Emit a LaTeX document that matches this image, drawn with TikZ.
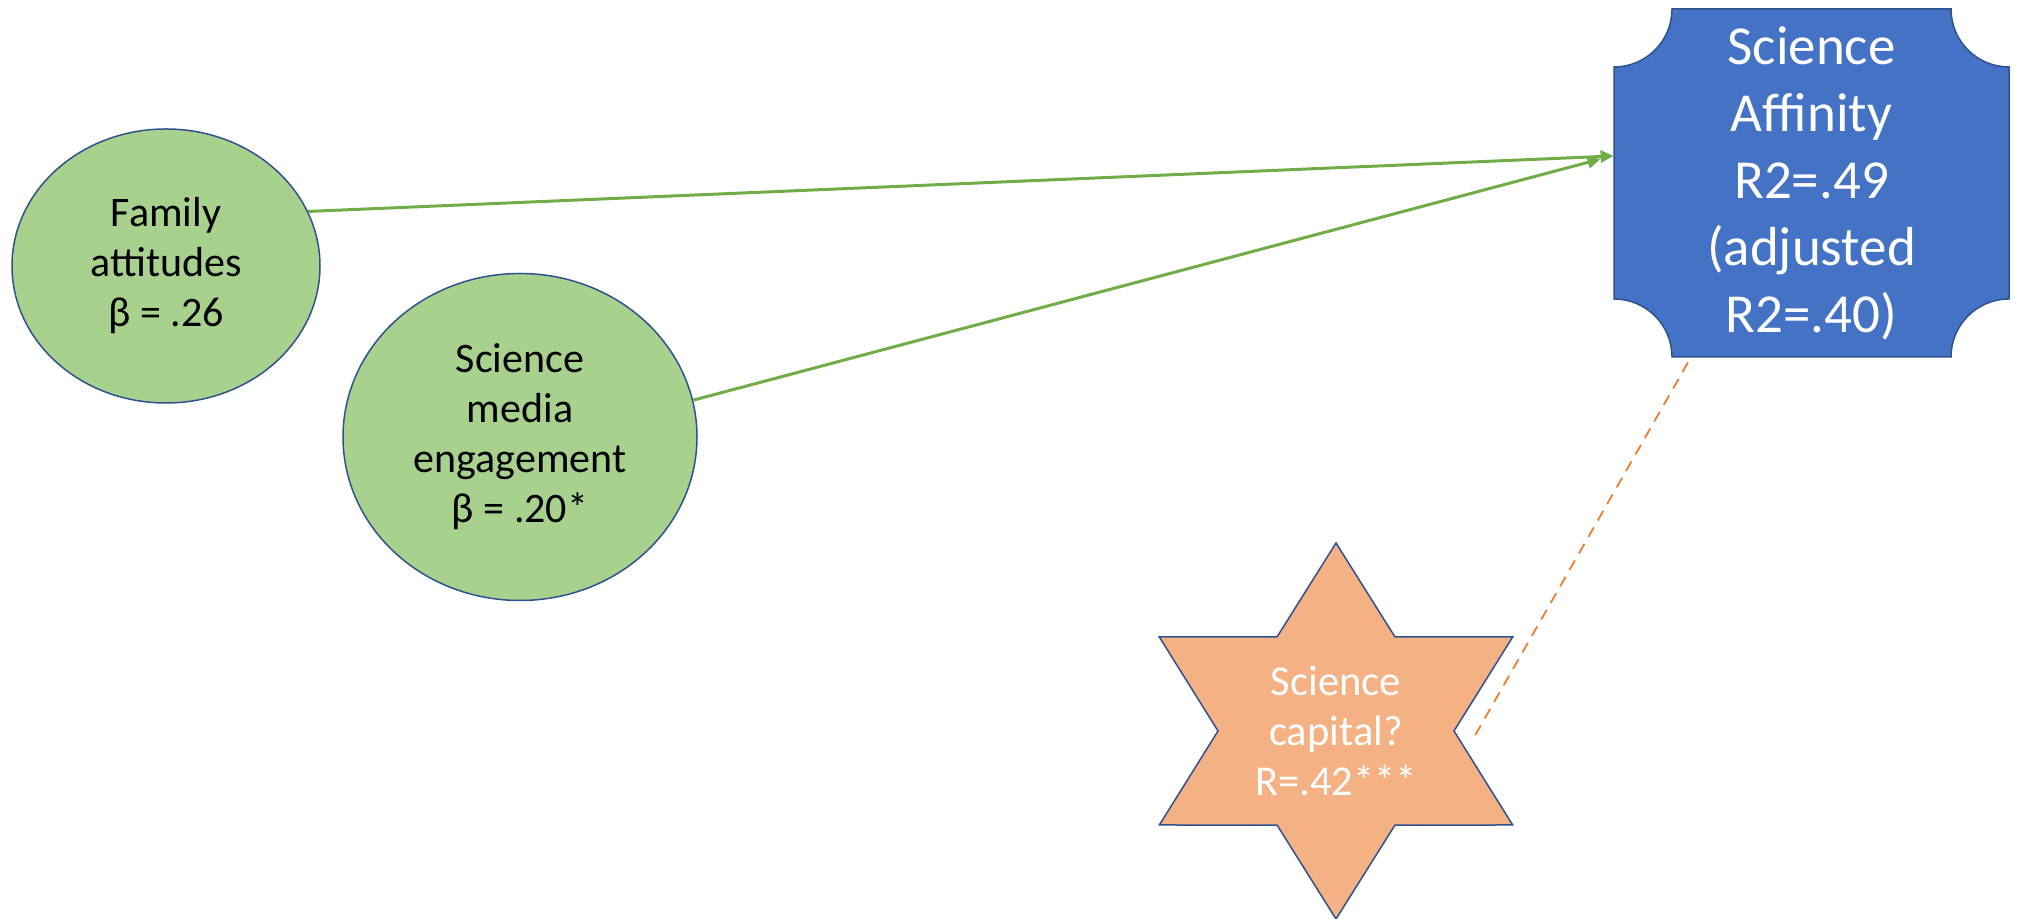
\documentclass[tikz,border=0pt]{standalone}
\usepackage{fontspec}
\setmainfont{Carlito}
\usetikzlibrary{arrows.meta}
\usetikzlibrary{shapes.geometric}
\usetikzlibrary{calc}

\definecolor{predfill}{HTML}{A9D18E}
\definecolor{edgeblue}{HTML}{2F528F}
\definecolor{pathgreen}{HTML}{70AD47}
\definecolor{outfill}{HTML}{4472C4}
\definecolor{capfill}{HTML}{F4B183}
\definecolor{capline}{HTML}{ED7D31}

\begin{document}
\begin{tikzpicture}[x=0.5pt, y=0.5pt,
                          prednode/.style={ellipse, draw=edgeblue, fill=predfill, line width=0.75pt, inner sep=0pt, align=center, font=\fontsize{21pt}{25pt}\selectfont},
                          outnode/.style={rectangle, inner sep=0pt, align=center, text=white, minimum width=197.5pt, minimum height=174pt, font=\fontsize{27.5pt}{33.5pt}\selectfont},
                          capnode/.style={inner sep=0pt, align=center, text=white, font=\fontsize{21.3pt}{25pt}\selectfont},
                          plaque/.style={draw=edgeblue, fill=outfill, line width=0.75pt},
                          starshape/.style={draw=edgeblue, fill=capfill, line width=0.75pt},
                          patharrow/.style={draw=pathgreen, line width=1.5pt, -{Triangle[length=6.5pt, width=6pt]}},
                          corrline/.style={draw=capline, line width=0.9pt, dash pattern=on 5.5pt off 4pt},
                      ]
                      \useasboundingbox (0,0) rectangle (2018,919);

                      %Outcome plaque
                      \path (1811.5,736) coordinate (affc);
                      \draw[plaque] ($(affc)+(-69.75pt,87pt)$) -- ($(affc)+(69.75pt,87pt)$)
                          arc[start angle=180, end angle=270, radius=29pt] -- ++(0,-232)
                          arc[start angle=90, end angle=180, radius=29pt] -- ++(-279,0)
                          arc[start angle=0, end angle=90, radius=29pt] -- ++(0,232)
                          arc[start angle=270, end angle=360, radius=29pt] -- cycle;

                      %Star
                      \path (1336,188) coordinate (capc);
                      \draw[starshape] (capc) ++(90:102pt and 94pt)
                          \foreach \a in {60,0,-60,-120,-180,-240} {
                              -- ($(capc)+(\a:59pt and 54.3pt)$) -- ($(capc)+(\a-30:102pt and 94pt)$)
                          } -- cycle;

                      %Nodes
                      \node[prednode, minimum width=154pt, minimum height=137pt]   (fam)   at (166,653)   {Family\\attitudes\\β = .26};
                      \node[prednode, minimum width=177pt, minimum height=163.5pt] (media) at (520,482)   {Science\\media\\engagement\\β = .20*};
                      \node[outnode]    (aff)    at (affc)   {Science\\Affinity\\R2=.49\\(adjusted\\R2=.40)};
                      \node[capnode]    (cap)    at (capc)   {Science\\capital?\\R=.42***};

                      %Lines
                      \draw[patharrow] (fam.21.5) -- ([yshift=13.5pt]aff.west);
                      \draw[patharrow] (media.12) -- ([xshift=-6.5pt, yshift=12pt]aff.west);
                      \draw[corrline] ([xshift=-61.75pt, yshift=-2.5pt]aff.south) -- ([xshift=68.5pt, yshift=-4pt]cap.center);
                  \end{tikzpicture}
\end{document}
